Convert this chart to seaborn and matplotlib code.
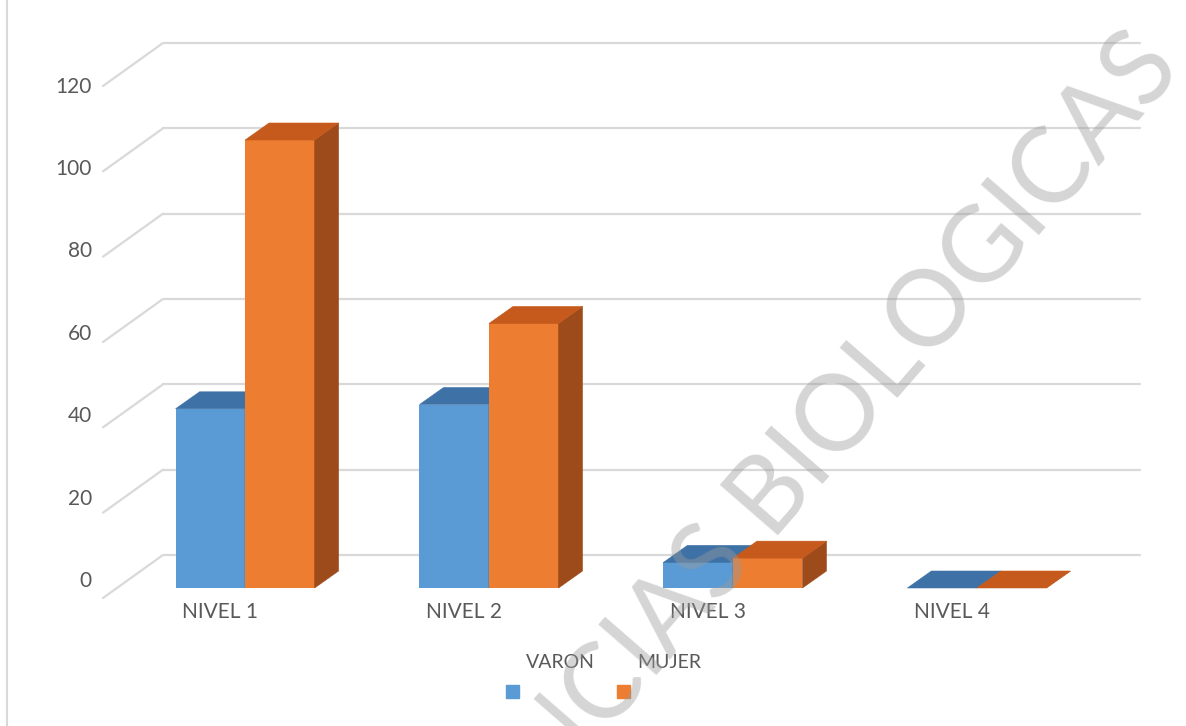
import matplotlib
matplotlib.use("Agg")
import matplotlib.pyplot as plt
from matplotlib.patches import Polygon, Rectangle
from matplotlib.lines import Line2D
from matplotlib.transforms import IdentityTransform, ScaledTranslation
import seaborn as sns
import pandas as pd

# data
niveles = ["NIVEL 1", "NIVEL 2", "NIVEL 3", "NIVEL 4"]
series = ["VARON", "MUJER"]
varon = [42, 43, 6, 0]
mujer = [105, 62, 7, 0]
yticks = [0, 20, 40, 60, 80, 100, 120]

front_col = {"VARON": "#5B9BD5", "MUJER": "#ED7D31"}
top_col = {"VARON": "#3E71A6", "MUJER": "#C55A1C"}
side_col = {"VARON": "#2F5F8F", "MUJER": "#9E4B1C"}
text_col = "#595959"
grid_col = "#d9d9d9"

df = pd.DataFrame({
    "nivel": niveles * 2,
    "sexo": ["VARON"] * len(niveles) + ["MUJER"] * len(niveles),
    "n": varon + mujer,
})

sns.set_style("white")
plt.rcParams["font.family"] = ["Lato", "DejaVu Sans"]

W, H, DPI = 1186, 726, 100
fig = plt.figure(figsize=(W / DPI, H / DPI), dpi=DPI)
ax = fig.add_axes([117 / W, (H - 588) / H, (1094 - 117) / W, 512 / H])
sns.barplot(data=df, x="nivel", y="n", hue="sexo", hue_order=series,
            palette=front_col, saturation=1, width=0.57, linewidth=0,
            legend=False, ax=ax)
ax.set_xlim(-0.525, 3.48)
ax.set_ylim(0, 120)
ax.set_xlabel("")
ax.set_ylabel("")
ax.set_yticks([])
ax.patch.set_alpha(0)
for sp in ax.spines.values():
    sp.set_visible(False)

ident = IdentityTransform()

# back wall gridlines + floor diagonals (oblique 3D look)
WX, WY = 46, 33      # wall offset from bar plane, px
FX, FY = -60, -43    # diagonal towards the front
x_left, x_right = ax.get_xlim()
for v in yticks:
    (lx, ly), (rx, ry) = ax.transData.transform([(x_left, v), (x_right, v)])
    ax.add_line(Line2D([lx + WX, rx + WX], [ly + WY, ry + WY], transform=ident,
                       color=grid_col, lw=1.6, clip_on=False, zorder=0.5))
    ax.add_line(Line2D([lx + WX, lx + WX + FX], [ly + WY, ly + WY + FY], transform=ident,
                       color=grid_col, lw=1.6, clip_on=False, zorder=0.5))

# 3D tops and sides for each bar
DX, DY = 24, 17
n = len(niveles)
for i, bar in enumerate(ax.patches):
    s = series[i // n]
    z = 2 + i // n
    x0, y0 = bar.get_x(), bar.get_y()
    x1, y1 = x0 + bar.get_width(), y0 + bar.get_height()
    (px0, py0), (px1, py1) = ax.transData.transform([(x0, y0), (x1, y1)])
    bar.set_zorder(z)
    bar.set_clip_on(False)
    top = [(px0, py1), (px1, py1), (px1 + DX, py1 + DY), (px0 + DX, py1 + DY)]
    side = [(px1, py0), (px1 + DX, py0 + DY), (px1 + DX, py1 + DY), (px1, py1)]
    for pts, c in [(side, side_col[s]), (top, top_col[s])]:
        ax.add_patch(Polygon(pts, closed=True, transform=ident, facecolor=c,
                             edgecolor=c, lw=0.4, clip_on=False, zorder=z))

# y tick labels sit on the front plane (slightly different scale)
sec = ax.secondary_yaxis("left", functions=(lambda y: (y - 2.1) / 0.9655,
                                            lambda v: 2.1 + 0.9655 * v))
sec.set_yticks(yticks)
sec.tick_params(length=0, pad=18, labelsize=15, labelcolor=text_col)
sec.spines["left"].set_visible(False)

# x labels shifted to the front edge
ax.tick_params(axis="x", length=0, pad=10, labelsize=15, labelcolor=text_col)
shift = ScaledTranslation(-25 / DPI, 0, fig.dpi_scale_trans)
for lab in ax.get_xticklabels():
    lab.set_transform(lab.get_transform() + shift)

# legend in the Excel layout: names above, swatches below
legend_pos = {"VARON": (526, 506), "MUJER": (637, 617)}
for s in series:
    tx, sx = legend_pos[s]
    fig.text(tx / W, 1 - 662 / H, s, ha="left", va="center", fontsize=14, color=text_col)
    fig.add_artist(Rectangle((sx / W, 1 - 698 / H), 13 / W, 13 / H,
                             transform=fig.transFigure, color=front_col[s]))

# chart border on the left
fig.add_artist(Line2D([7 / W, 7 / W], [0, 1], color=grid_col, lw=1.5))

# watermark
fig.text(0.668, 0.348, "CIENCIAS BIOLOGICAS", rotation=49, rotation_mode="anchor",
         ha="center", va="center", fontsize=76, color="#9a9a9a", alpha=0.42, zorder=10)

fig.savefig("out.png", dpi=DPI, facecolor="white")
